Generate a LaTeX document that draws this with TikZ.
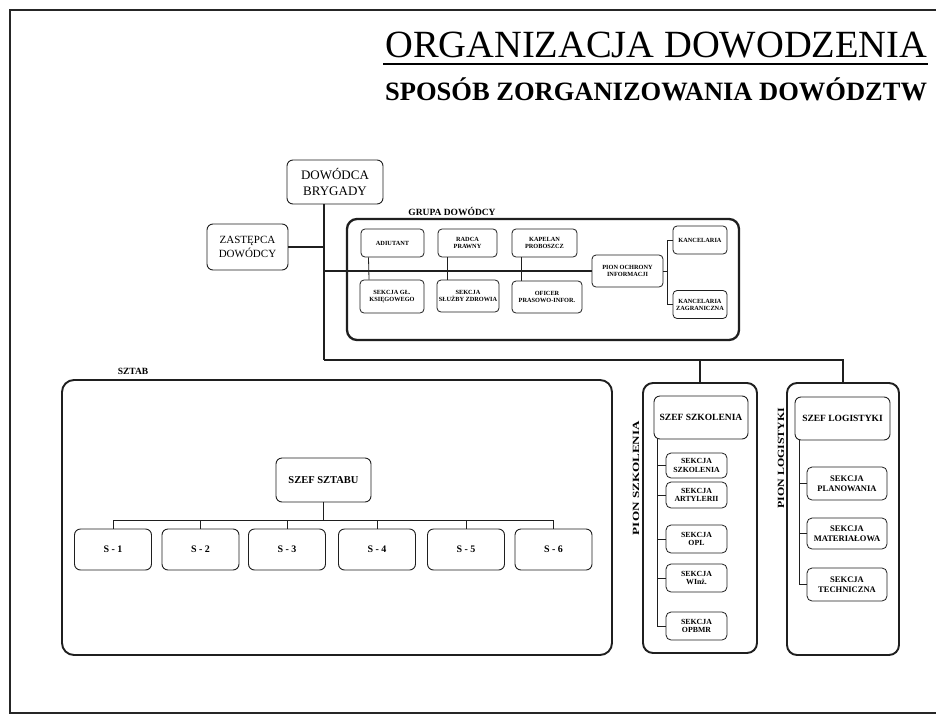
\documentclass[tikz,border=0pt]{standalone}
\usepackage{fontspec}
\usepackage{graphicx}
\setmainfont{Liberation Serif}
\begin{document}
\begin{tikzpicture}[x=1pt,y=-1pt,
  ink/.style={draw=black!88},
  ibox/.style={ink, rounded corners=4pt, line width=0.8pt, align=center, inner sep=0pt,
    font=\bfseries\fontsize{6.3}{7}\selectfont},
  mbox/.style={ink, rounded corners=6pt, line width=0.9pt, align=center, inner sep=0pt},
  bigbox/.style={ink, rounded corners=10pt, line width=1.9pt, inner sep=0pt},
  conn/.style={draw=black!88, line width=0.8pt},
  busline/.style={draw=black!88, line width=1.6pt},
  lbl/.style={font=\bfseries\fontsize{9.5}{10}\selectfont, inner sep=0pt}
]
\useasboundingbox (0,0) rectangle (936,717);
\fill[white] (0,0) rectangle (936,717);
% outer frame
\draw[line width=2pt, black!85] (936,10) -- (10,10) -- (10,713) -- (936,713);

% titles
\node[anchor=base west, inner sep=0pt, font=\fontsize{38.5}{40}\selectfont] (title) at (385,58) {ORGANIZACJA DOWODZENIA};
\draw[line width=2pt] (title.base west) ++(-2,6) coordinate (ul1) -- (ul1 -| title.base east);
\node[anchor=base west, inner sep=0pt, font=\bfseries\fontsize{26.5}{28}\selectfont] (sub) at (385,100) {SPOSÓB ZORGANIZOWANIA DOWÓDZTW};

% command
\node[mbox, minimum width=96, minimum height=44, font=\fontsize{13}{16}\selectfont] (dow) at (335,182) {DOWÓDCA\\BRYGADY};
\node[mbox, minimum width=81, minimum height=46, font=\fontsize{11}{14}\selectfont] (zast) at (247.5,247) {ZASTĘPCA\\DOWÓDCY};

% command group
\node[bigbox, minimum width=392, minimum height=121, line width=2.3pt] (grupa) at (543,279.5) {};
\node[lbl] (grupaL) at (452,211) {GRUPA DOWÓDCY};
\node[ibox, minimum width=63, minimum height=28] (adi) at (392.5,243) {ADIUTANT};
\node[ibox, minimum width=59, minimum height=28] (radca) at (467.5,243) {RADCA\\PRAWNY};
\node[ibox, minimum width=65, minimum height=28] (kap) at (544.5,243) {KAPELAN\\PROBOSZCZ};
\node[ibox, minimum width=64, minimum height=33] (sekgl) at (392,296.5) {SEKCJA GŁ.\\KSIĘGOWEGO};
\node[ibox, minimum width=62, minimum height=32] (seksz) at (468,296) {SEKCJA\\SŁUŻBY ZDROWIA};
\node[ibox, minimum width=70, minimum height=32] (ofi) at (547,297) {OFICER\\PRASOWO-INFOR.};
\node[ibox, minimum width=71, minimum height=32] (pion) at (627.5,271) {PION OCHRONY\\INFORMACJI};
\node[ibox, minimum width=54, minimum height=28] (kanc) at (700,240) {KANCELARIA};
\node[ibox, minimum width=54, minimum height=28] (kancz) at (700,304.5) {KANCELARIA\\ZAGRANICZNA};

% main spine
\coordinate (b0) at (324,360);
\coordinate (b1) at (843,360);
\draw[conn, line width=1.2pt] ([xshift=-11]dow.south) -- (b0);
\draw[conn, line width=1.2pt] (zast.east) -- (zast.east -| b0);
\draw[conn, line width=1.2pt] (pion.west) -- (pion.west -| b0);
\draw[conn] ([xshift=-24]adi.south) -- ([xshift=-23]sekgl.north);
\draw[conn] ([xshift=-20.5]radca.south) -- ([xshift=-21]seksz.north);
\draw[conn] ([xshift=-23.5]kap.south) -- ([xshift=-26]ofi.north);
\coordinate (kv) at (667,271);
\draw[conn] (pion.east) -- (kv);
\draw[conn] (kanc.west) -| (kv) |- (kancz.west);

% staff
\node[bigbox, minimum width=550, minimum height=275, rounded corners=12pt] (sztab) at (337,517.5) {};
\node[lbl] (sztabL) at (133,371) {SZTAB};
\node[mbox, minimum width=95, minimum height=44, font=\bfseries\fontsize{10.5}{12}\selectfont] (szs) at (323.5,480) {SZEF SZTABU};
\foreach \n/\x/\t in {s1/113/S - 1, s2/200.5/S - 2, s3/287/S - 3, s4/377/S - 4, s5/466/S - 5, s6/553.5/S - 6}{
  \node[mbox, minimum width=77, minimum height=41, font=\bfseries\fontsize{10}{12}\selectfont] (\n) at (\x,549.5) {\t};
}
\draw[conn] (szs.south) -- (szs.south |- 0,521);
\draw[conn] (s1.north) -- ++(0,-8) -| (s6.north);
\foreach \n in {s2,s3,s4,s5}{ \draw[conn] (\n.north) -- ++(0,-8); }

% training
\node[bigbox, minimum width=114, minimum height=270] (pszk) at (700,518) {};
\node[rotate=90, font=\bfseries\fontsize{9.5}{10}\selectfont, inner sep=0pt] (pszkL) at (636,478) {\scalebox{1.38}[1]{PION SZKOLENIA}};
\node[mbox, minimum width=94, minimum height=43, font=\bfseries\fontsize{9.5}{11}\selectfont] (szk) at (701,417.5) {SZEF SZKOLENIA};
\foreach \n/\y/\h/\t in {k1/465.5/25/SEKCJA\\SZKOLENIA, k2/495/26/SEKCJA\\ARTYLERII, k3/539/28/SEKCJA\\OPL, k4/578/28/SEKCJA\\WInż., k5/626/28/SEKCJA\\OPBMR}{
  \node[ibox, rounded corners=5pt, minimum width=61, minimum height=\h, font=\bfseries\fontsize{7.8}{8.6}\selectfont] (\n) at (696.5,\y) {\t};
}
\coordinate (sv) at (657,439);
\draw[conn] (sv) |- (k5.west);
\foreach \n in {k1,k2,k3,k4}{ \draw[conn] (\n.west) -- (\n.west -| sv); }

% logistics
\node[bigbox, minimum width=112, minimum height=272] (plog) at (843,519) {};
\node[rotate=90, font=\bfseries\fontsize{9.5}{10}\selectfont, inner sep=0pt] (plogL) at (781,458) {\scalebox{1.25}[1]{PION LOGISTYKI}};
\node[mbox, minimum width=95, minimum height=43, font=\bfseries\fontsize{9.5}{11}\selectfont] (szl) at (842.5,418.5) {SZEF LOGISTYKI};
\foreach \n/\y/\h/\t in {l1/483.5/33/SEKCJA\\PLANOWANIA, l2/533.5/31/SEKCJA\\MATERIAŁOWA, l3/584.5/33/SEKCJA\\TECHNICZNA}{
  \node[ibox, rounded corners=5pt, minimum width=80, minimum height=\h, font=\bfseries\fontsize{8.5}{9.6}\selectfont] (\n) at (847,\y) {\t};
}
\coordinate (lv) at (799,440);
\draw[conn] (lv) |- (l3.west);
\foreach \n in {l1,l2}{ \draw[conn] (\n.west) -- (\n.west -| lv); }

% bus to branches
\draw[busline] (b0) -- (b1) -- (plog.north);
\draw[conn, line width=1.2pt] (pszk.north |- b0) -- (pszk.north);
\end{tikzpicture}
\end{document}
